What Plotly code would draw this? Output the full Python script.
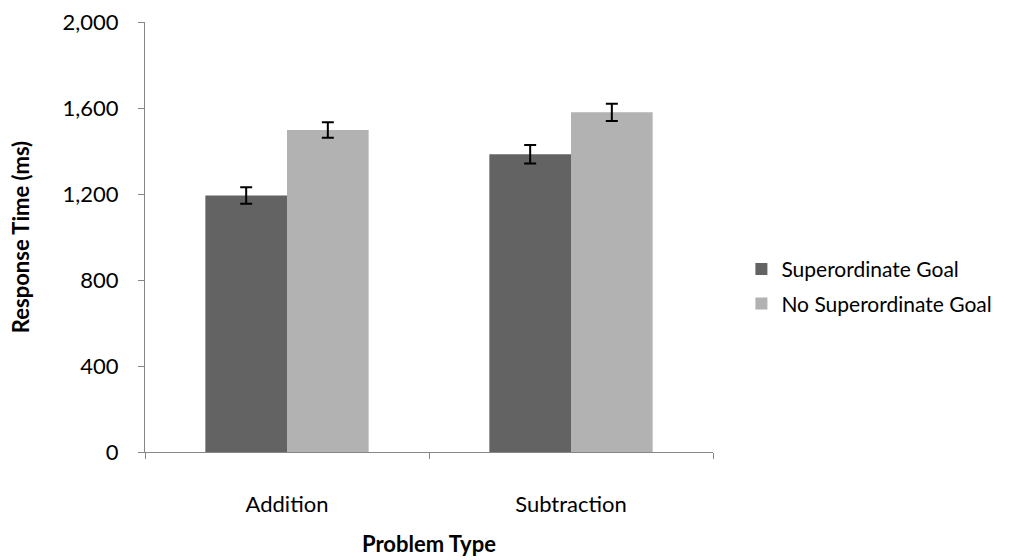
import plotly.graph_objects as go

# Mean response times (ms) by problem type, with standard-error bars
problem_types = ["Addition", "Subtraction"]
superordinate = [1193, 1385]
superordinate_err = [38, 43]
no_superordinate = [1498, 1580]
no_superordinate_err = [36, 40]
y_ticks = [0, 400, 800, 1200, 1600, 2000]

FONT = "Lato, Carlito, Calibri, sans-serif"
AXIS_GRAY = "#868686"
FS = 22

fig = go.Figure()
fig.add_trace(go.Bar(
    name="Superordinate Goal", x=problem_types, y=superordinate,
    marker=dict(color="#636363", line=dict(width=0)),
    error_y=dict(type="data", array=superordinate_err, color="black",
                 thickness=2, width=6),
    legendgroup="a",
))
fig.add_trace(go.Bar(
    name="No Superordinate Goal", x=problem_types, y=no_superordinate,
    marker=dict(color="#b2b2b2", line=dict(width=0)),
    error_y=dict(type="data", array=no_superordinate_err, color="black",
                 thickness=2, width=6),
    legendgroup="b",
))

fig.update_layout(
    width=1029, height=560,
    margin=dict(l=145, r=316, t=22, b=107.5),
    paper_bgcolor="white", plot_bgcolor="white",
    barmode="group", bargap=0.425, bargroupgap=0,
    font=dict(family=FONT, size=FS, color="black"),
    showlegend=True,
    legend=dict(x=1.05, y=0.385, xanchor="left", yanchor="middle",
                font=dict(size=21), tracegroupgap=4,
                itemwidth=30, bgcolor="rgba(0,0,0,0)"),
    xaxis=dict(
        automargin=False,
        showline=True, linecolor=AXIS_GRAY, linewidth=1,
        ticks="outside", tickson="boundaries", ticklen=6,
        tickcolor=AXIS_GRAY, ticklabelstandoff=33,
        tickfont=dict(size=FS),
        title=dict(text="<b>Problem Type</b>", font=dict(size=FS), standoff=20),
    ),
    yaxis=dict(
        automargin=False,
        range=[0, 2000], tickvals=y_ticks, tickformat=",d",
        showline=True, linecolor=AXIS_GRAY, linewidth=1,
        ticks="outside", ticklen=6, tickcolor=AXIS_GRAY,
        showgrid=False, zeroline=False, ticklabelstandoff=15,
        tickfont=dict(size=FS),
        title=dict(text="<b>Response Time (ms)</b>", font=dict(size=FS), standoff=26),
    ),
)

fig.write_html("out.html")
